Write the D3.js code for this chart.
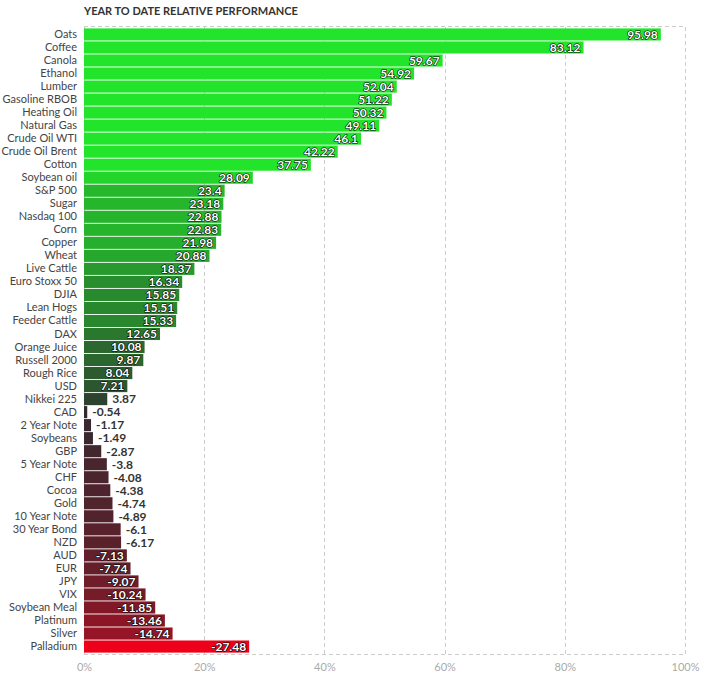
<!DOCTYPE html>
<html>
<head>
<meta charset="utf-8">
<script src="https://cdn.jsdelivr.net/npm/d3@7"></script>
<style>
  body { margin: 0; background: #fff; }
  svg { font-family: Lato, "Open Sans", sans-serif; }
</style>
</head>
<body>
<svg id="chart" width="701" height="675"></svg>
<script>
const categories = ['Oats', 'Coffee', 'Canola', 'Ethanol', 'Lumber', 'Gasoline RBOB', 'Heating Oil',
  'Natural Gas', 'Crude Oil WTI', 'Crude Oil Brent', 'Cotton', 'Soybean oil', 'S&P 500', 'Sugar',
  'Nasdaq 100', 'Corn', 'Copper', 'Wheat', 'Live Cattle', 'Euro Stoxx 50', 'DJIA', 'Lean Hogs',
  'Feeder Cattle', 'DAX', 'Orange Juice', 'Russell 2000', 'Rough Rice', 'USD', 'Nikkei 225', 'CAD',
  '2 Year Note', 'Soybeans', 'GBP', '5 Year Note', 'CHF', 'Cocoa', 'Gold', '10 Year Note',
  '30 Year Bond', 'NZD', 'AUD', 'EUR', 'JPY', 'VIX', 'Soybean Meal', 'Platinum', 'Silver', 'Palladium']
const values = [95.98, 83.12, 59.67, 54.92, 52.04, 51.22, 50.32, 49.11, 46.1, 42.22, 37.75, 28.09,
  23.4, 23.18, 22.88, 22.83, 21.98, 20.88, 18.37, 16.34, 15.85, 15.51, 15.33, 12.65, 10.08, 9.87,
  8.04, 7.21, 3.87, -0.54, -1.17, -1.49, -2.87, -3.8, -4.08, -4.38, -4.74, -4.89, -6.1, -6.17,
  -7.13, -7.74, -9.07, -10.24, -11.85, -13.46, -14.74, -27.48]
const xTicks = [0, 20, 40, 60, 80, 100]
const title = 'YEAR TO DATE RELATIVE PERFORMANCE'

const data = categories.map((c, i) => ({ name: c, value: values[i] }))

const margin = { top: 27, right: 16, bottom: 21, left: 84 }
const width = 701, height = 675
const svg = d3.select('#chart')

const x = d3.scaleLinear().domain([0, 100]).range([margin.left, width - margin.right])
const y = d3.scaleBand().domain(categories).range([margin.top + 1, height - margin.bottom - 1]).paddingInner(0.07).paddingOuter(0.03)
const color = d3.scaleLinear().domain([-27.5, 0, 31]).range(['#ee001b', '#2f2b30', '#22e52b']).clamp(true)

// title
svg.append('text')
  .attr('x', margin.left).attr('y', 15)
  .attr('fill', '#333').attr('font-size', 11).attr('font-weight', 'bold')
  .text(title)

// grid
const grid = svg.append('g')
grid.selectAll('line.v')
  .data(xTicks)
  .join('line')
  .attr('x1', d => Math.round(x(d)) + 0.5).attr('x2', d => Math.round(x(d)) + 0.5)
  .attr('y1', margin.top).attr('y2', height - margin.bottom)
  .attr('stroke', '#ccc').attr('stroke-dasharray', '4,3')
grid.append('line')
  .attr('x1', x(0)).attr('x2', x(100))
  .attr('y1', margin.top - 0.5).attr('y2', margin.top - 0.5)
  .attr('stroke', '#ccc').attr('stroke-dasharray', '4,3')
grid.append('line')
  .attr('x1', x(0)).attr('x2', x(100))
  .attr('y1', height - margin.bottom + 0.5).attr('y2', height - margin.bottom + 0.5)
  .attr('stroke', '#ccc').attr('stroke-dasharray', '4,3')

// x axis
const xAxis = svg.append('g')
  .attr('transform', `translate(0,${height - margin.bottom})`)
  .call(d3.axisBottom(x).tickValues(xTicks).tickFormat(d => d + '%').tickSize(0).tickPadding(9))
xAxis.select('.domain').remove()
xAxis.selectAll('text').attr('fill', '#aaa').attr('font-size', 11).attr('font-family', 'Lato')

// y axis
const yAxis = svg.append('g')
  .attr('transform', `translate(${margin.left},0)`)
  .call(d3.axisLeft(y).tickSize(0).tickPadding(7))
yAxis.select('.domain').remove()
yAxis.selectAll('text').attr('fill', '#444').attr('font-size', 11).attr('font-family', 'Lato')

// bars
svg.append('g')
  .selectAll('rect')
  .data(data)
  .join('rect')
  .attr('x', x(0))
  .attr('y', d => y(d.name))
  .attr('width', d => x(Math.abs(d.value)) - x(0))
  .attr('height', y.bandwidth())
  .attr('fill', d => color(d.value))

// value labels: inside the bar when it is long enough, otherwise just after it
const labels = svg.append('g')
  .selectAll('text')
  .data(data)
  .join('text')
  .attr('y', d => y(d.name) + y.bandwidth() / 2)
  .attr('dy', '0.36em')
  .attr('font-size', 12).attr('font-weight', 'bold')
  .text(d => d.value)

labels.each(function(d) {
  const t = d3.select(this)
  const w = this.getComputedTextLength()
  const barW = x(Math.abs(d.value)) - x(0)
  if (barW >= 40 && w + 6 <= barW) {
    t.attr('x', x(Math.abs(d.value)) - 3).attr('text-anchor', 'end')
      .attr('fill', '#fff').attr('stroke', '#000').attr('stroke-width', 1.2)
      .attr('stroke-linejoin', 'round').attr('paint-order', 'stroke')
  } else {
    t.attr('x', x(Math.abs(d.value)) + 5).attr('text-anchor', 'start')
      .attr('fill', '#333')
  }
})
</script>
</body>
</html>
